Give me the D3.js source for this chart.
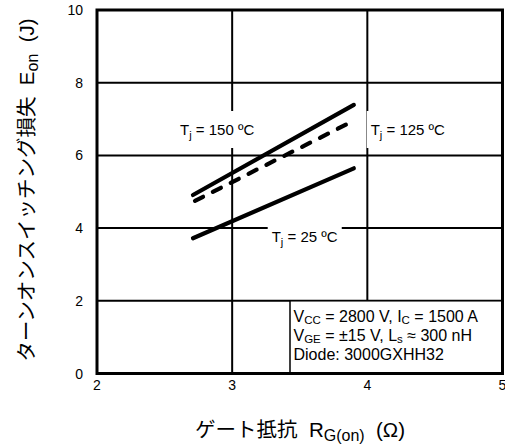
<!DOCTYPE html>
<html><head><meta charset="utf-8">
<script src="https://cdn.jsdelivr.net/npm/d3@7/dist/d3.min.js"></script>
<style>
body{margin:0;background:#fff;}
text{font-family:"Liberation Sans","Noto Sans CJK JP",sans-serif;fill:#000;white-space:pre;}
</style></head>
<body><svg id="c" width="505" height="446"></svg>
<script>
// Data
const xTicks = [2, 3, 4, 5];
const yTicks = [0, 2, 4, 6, 8, 10];
const rg = [2.71, 3.9];
const eon150 = [4.91, 7.39];
const rg125 = [2.725, 3.86];
const eon125 = [4.75, 6.88];
const eon25 = [3.72, 5.645];
const series = [
  {name: "150", x: rg, y: eon150, dash: null},
  {name: "125", x: rg125, y: eon125, dash: "9,11"},
  {name: "25", x: rg, y: eon25, dash: null}
];

const svg = d3.select("#c");
const x = d3.scaleLinear().domain([2, 5]).range([97, 502.5]);
const y = d3.scaleLinear().domain([0, 10]).range([373.5, 10]);

// grid
const g = svg.append("g");
g.selectAll("line.v").data([3, 4]).enter().append("line")
  .attr("x1", d => x(d)).attr("x2", d => x(d)).attr("y1", y(0)).attr("y2", y(10))
  .attr("stroke", "#000").attr("stroke-width", 2);
g.selectAll("line.h").data([2, 4, 6, 8]).enter().append("line")
  .attr("x1", x(2)).attr("x2", x(5)).attr("y1", d => y(d)).attr("y2", d => y(d))
  .attr("stroke", "#000").attr("stroke-width", 2);

// series lines
const line = d3.line().x(d => x(d[0])).y(d => y(d[1]));
series.forEach(s => {
  svg.append("path").datum(s.x.map((v, i) => [v, s.y[i]]))
    .attr("d", line).attr("fill", "none").attr("stroke", "#000")
    .attr("stroke-width", 4.2).attr("stroke-linecap", "round")
    .attr("stroke-dasharray", s.dash);
});

// labels with white background
function tLabel(px, py, temp) {
  const grp = svg.append("g");
  const rect = grp.append("rect").attr("fill", "#fff");
  const t = grp.append("text").attr("x", px).attr("y", py).attr("font-size", 15);
  t.append("tspan").text("T");
  t.append("tspan").attr("font-size", 11).attr("dy", 4).text("j");
  t.append("tspan").attr("dy", -4).text(" = " + temp + " ºC");
  const b = t.node().getBBox();
  rect.attr("x", b.x - 4).attr("y", b.y - 10).attr("width", b.width + 8).attr("height", b.height + 17);
}
tLabel(180, 135, "150");
tLabel(370.7, 135, "125");
tLabel(271.7, 242, "25");

// annotation box
svg.append("rect").attr("x", 290).attr("y", y(2))
  .attr("width", x(5) - 290).attr("height", y(0) - y(2))
  .attr("fill", "#fff").attr("stroke", "#000").attr("stroke-width", 1.5);
const ann = svg.append("g").attr("font-size", 16);
const a1 = ann.append("text").attr("x", 293.5).attr("y", 322);
a1.append("tspan").text("V");
a1.append("tspan").attr("font-size", 11.5).attr("dy", 2).text("CC");
a1.append("tspan").attr("dy", -2).text(" = 2800 V, I");
a1.append("tspan").attr("font-size", 11.5).attr("dy", 2).text("C");
a1.append("tspan").attr("dy", -2).text(" = 1500 A");
const a2 = ann.append("text").attr("x", 293.5).attr("y", 341);
a2.append("tspan").text("V");
a2.append("tspan").attr("font-size", 11.5).attr("dy", 2).text("GE");
a2.append("tspan").attr("dy", -2).text(" = \u00b115 V, L");
a2.append("tspan").attr("font-size", 11.5).attr("dy", 2).text("s");
a2.append("tspan").attr("dy", -2).text(" \u2248 300 nH");
ann.append("text").attr("x", 293.5).attr("y", 360).text("Diode: 3000GXHH32");

// frame
svg.append("rect").attr("x", x(2)).attr("y", y(10))
  .attr("width", x(5) - x(2)).attr("height", y(0) - y(10))
  .attr("fill", "none").attr("stroke", "#000").attr("stroke-width", 3);

// tick labels
svg.selectAll("text.xt").data(xTicks).enter().append("text")
  .attr("x", d => x(d)).attr("y", 390).attr("text-anchor", "middle")
  .attr("font-size", 14).text(d => d);
svg.selectAll("text.yt").data(yTicks).enter().append("text")
  .attr("x", 83).attr("y", d => y(d) + 5).attr("text-anchor", "end")
  .attr("font-size", 14).text(d => d);

// x title
const xt = svg.append("text").attr("x", 300).attr("y", 437).attr("text-anchor", "middle").attr("font-size", 20.5);
xt.append("tspan").text("ゲート抵抗  R");
xt.append("tspan").attr("font-size", 16).attr("dy", 4).text("G(on)");
xt.append("tspan").attr("dy", -4).text("  (Ω)");

// y title
const yt = svg.append("text").attr("transform", "translate(34,190) rotate(-90)")
  .attr("text-anchor", "middle").attr("font-size", 20.5);
yt.append("tspan").text("ターンオンスイッチング損失  E");
yt.append("tspan").attr("font-size", 16).attr("dy", 4).text("on");
yt.append("tspan").attr("dy", -4).text("  (J)");
</script></body></html>
